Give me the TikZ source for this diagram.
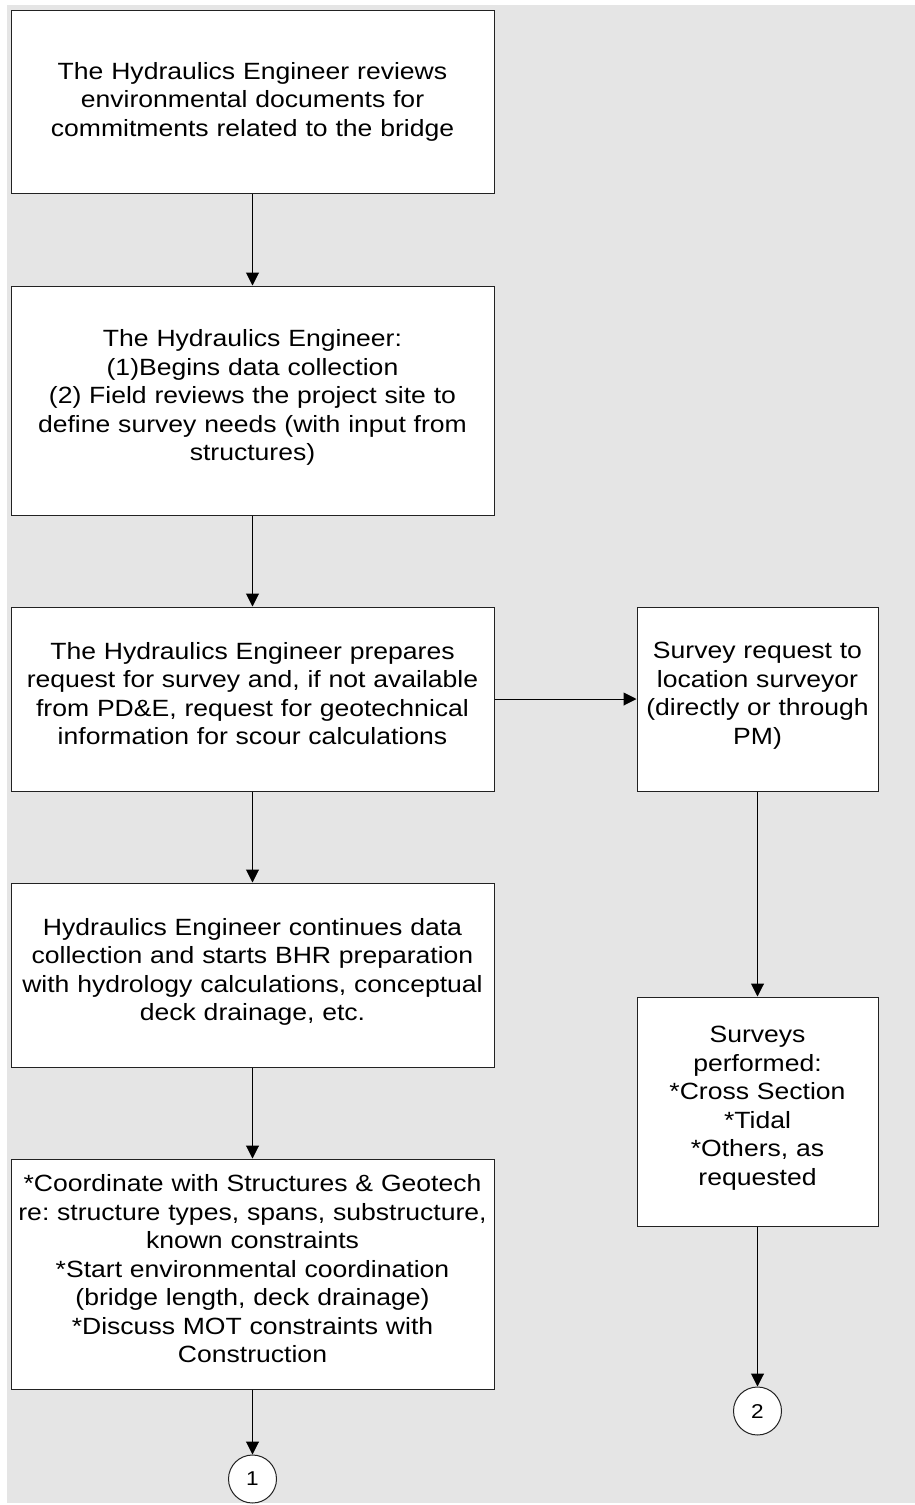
\documentclass[tikz,border=0pt]{standalone}
\usepackage{fontspec}
\setmainfont{Liberation Sans}[FakeStretch=1.13]
\usetikzlibrary{arrows.meta}
\definecolor{bggray}{HTML}{E5E5E5}
\definecolor{edge}{HTML}{222222}
\newcommand{\liftup}{\rule[-11pt]{0pt}{0pt}}
\tikzset{
  box/.style={draw=edge, line width=1pt, fill=white, inner sep=0pt, align=center,
    font=\fontsize{23.5}{28.5}\selectfont\frenchspacing},
  leftbox/.style={box, minimum width=483pt, text width=483pt},
  rightbox/.style={box, minimum width=241pt, text width=241pt},
  conn/.style={circle, draw=edge, line width=1pt, fill=white, minimum size=48pt, inner sep=0pt,
    font=\fontsize{20}{24}\selectfont},
  flow/.style={draw=black, line width=1pt, -{Triangle[length=13pt,width=13pt]}}
}
\begin{document}
\begin{tikzpicture}[x=1pt,y=-1pt]
\useasboundingbox (0,0) rectangle (915,1505);
\fill[bggray] (7,5) rectangle (915,1503);

\node[leftbox, minimum height=183pt] (b1) at (252.5,101.5)
  {The Hydraulics Engineer reviews\\environmental documents for\\commitments related to the bridge};
\node[leftbox, minimum height=229pt] (b2) at (252.5,400.5)
  {The Hydraulics Engineer:\\(1)Begins data collection\\(2) Field reviews the project site to\\define survey needs (with input from\\structures)\liftup};
\node[leftbox, minimum height=184pt] (b3) at (252.5,699)
  {The Hydraulics Engineer prepares\\request for survey and, if not available\\from PD\&E, request for geotechnical\\information for scour calculations\liftup};
\node[leftbox, minimum height=184pt] (b4) at (252.5,975)
  {Hydraulics Engineer continues data\\collection and starts BHR preparation\\with hydrology calculations, conceptual\\deck drainage, etc.\liftup};
\node[leftbox, minimum height=230pt] (b5) at (252.5,1274)
  {{*}Coordinate with Structures \& Geotech\\re: structure types, spans, substructure,\\known constraints\\{*}Start environmental coordination\\(bridge length, deck drainage)\\{*}Discuss MOT constraints with\\Construction\liftup};
\node[conn] (c1) at (252.5,1479) {1};

\node[rightbox, minimum height=184pt] (ra) at (757.5,699)
  {Survey request to\\location surveyor\\(directly or through\\PM)\liftup};
\node[rightbox, minimum height=229pt] (rb) at (757.5,1111.5)
  {Surveys\\performed:\\{*}Cross Section\\{*}Tidal\\{*}Others, as\\requested\liftup};
\node[conn] (c2) at (757.5,1411) {2};

\draw[flow] (b1) -- (b2);
\draw[flow] (b2) -- (b3);
\draw[flow] (b3) -- (b4);
\draw[flow] (b4) -- (b5);
\draw[flow] (b5) -- (c1);
\draw[flow] (b3) -- (ra);
\draw[flow] (ra) -- (rb);
\draw[flow] (rb) -- (c2);
\end{tikzpicture}
\end{document}
